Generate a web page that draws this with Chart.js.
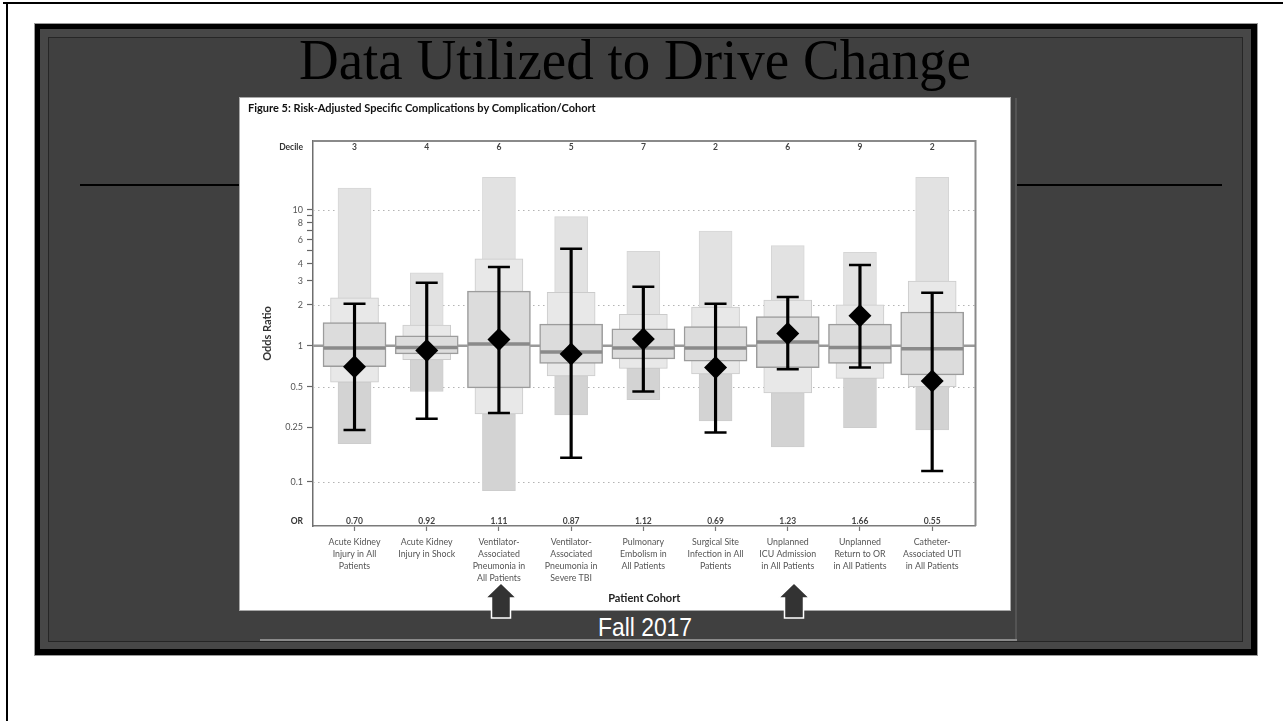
<!DOCTYPE html>
<html>
<head>
<meta charset="utf-8">
<title>Data Utilized to Drive Change</title>
<script src="https://cdn.jsdelivr.net/npm/chart.js@4.4.1/dist/chart.umd.min.js"></script>
<style>
  html, body { margin: 0; padding: 0; }
  body { width: 1283px; height: 721px; position: relative; overflow: hidden; background: #fff; }
  .abs { position: absolute; }
  #pageTop { left: 3px; top: 2px; width: 1280px; height: 2px; background: #000; }
  #pageLeft { left: 6px; top: 2px; width: 2px; height: 719px; background: #000; }
  #slide { left: 35px; top: 24px; width: 1222px; height: 631px; background: #000; box-shadow: 0 0 0 1px #9a9a9a; }
  #band { left: 40px; top: 29px; width: 1211px; height: 620px; background: #474747; }
  #inner { left: 48px; top: 37px; width: 1195px; height: 605px; background: #404040; border: 1px solid #262626; box-sizing: border-box; }
  #title { left: 285px; top: 31px; width: 700px; text-align: center; font: 57px/57px "Liberation Serif", "Times New Roman", serif; color: #000; transform: scaleX(0.965); }
  .rule { height: 2px; background: #000; top: 184px; }
  #figure { left: 240px; top: 98px; width: 770px; height: 512px; background: #fff; box-shadow: 0 0 0 1px #a8a8a8; }
  #figTitle { left: 248px; top: 101px; font: bold 11px Lato, "Liberation Sans", sans-serif; color: #111; white-space: nowrap; }
  #strip { left: 1015px; top: 98px; width: 2px; height: 542px; background: #545454; }
  #baseLine { left: 260px; top: 639px; width: 757px; height: 2px; background: #8a8a8a; }
  #fall { left: 545px; top: 614px; width: 200px; text-align: center; font: 26px/26px "Liberation Sans", Arial, sans-serif; color: #fff; transform: scaleX(0.88); }
  #chart { left: 240px; top: 98px; }
  #arrows { left: 0; top: 0; }
</style>
</head>
<body>
<div id="pageTop" class="abs"></div>
<div id="pageLeft" class="abs"></div>
<div id="slide" class="abs"></div>
<div id="band" class="abs"></div>
<div id="inner" class="abs"></div>
<div id="title" class="abs">Data Utilized to Drive Change</div>
<div class="abs rule" style="left:80px;width:160px"></div>
<div class="abs rule" style="left:1017px;width:205px"></div>
<div id="figure" class="abs"></div>
<div id="strip" class="abs"></div>
<div id="baseLine" class="abs"></div>
<canvas id="chart" class="abs" width="770" height="512"></canvas>
<div id="figTitle" class="abs">Figure 5: Risk-Adjusted Specific Complications by Complication/Cohort</div>
<div id="fall" class="abs">Fall 2017</div>
<svg id="arrows" class="abs" width="1283" height="721">
  <path d="M501,583 L516.5,598 L510.5,598 L510.5,618 L491.5,618 L491.5,598 L485.5,598 Z" fill="#333" stroke="#fff" stroke-width="1.5"/>
  <path d="M794,583 L809.5,598 L803.5,598 L803.5,618 L784.5,618 L784.5,598 L778.5,598 Z" fill="#333" stroke="#fff" stroke-width="1.5"/>
</svg>
<script>
// cohorts, one tick label (lines) each
const categories = [
  ['Acute Kidney', 'Injury in All', 'Patients'],
  ['Acute Kidney', 'Injury in Shock'],
  ['Ventilator-', 'Associated', 'Pneumonia in', 'All Patients'],
  ['Ventilator-', 'Associated', 'Pneumonia in', 'Severe TBI'],
  ['Pulmonary', 'Embolism in', 'All Patients'],
  ['Surgical Site', 'Infection in All', 'Patients'],
  ['Unplanned', 'ICU Admission', 'in All Patients'],
  ['Unplanned', 'Return to OR', 'in All Patients'],
  ['Catheter-', 'Associated UTI', 'in All Patients']
];
const deciles = [3, 4, 6, 5, 7, 2, 6, 9, 2];
const oddsRatio = [0.70, 0.92, 1.11, 0.87, 1.12, 0.69, 1.23, 1.66, 0.55];
const ciLow = [0.24, 0.29, 0.32, 0.15, 0.46, 0.23, 0.67, 0.69, 0.12];
const ciHigh = [2.03, 2.9, 3.79, 5.17, 2.71, 2.03, 2.28, 3.92, 2.45];

// distribution of all centres
const rangeLow = [0.19, 0.46, 0.086, 0.31, 0.40, 0.28, 0.18, 0.25, 0.24];
const p10 = [0.54, 0.79, 0.315, 0.60, 0.68, 0.62, 0.45, 0.575, 0.50];
const q1 = [0.70, 0.87, 0.49, 0.74, 0.80, 0.77, 0.69, 0.74, 0.61];
const median = [0.96, 0.97, 1.03, 0.90, 0.96, 0.96, 1.065, 0.97, 0.95];
const q3 = [1.48, 1.18, 2.52, 1.44, 1.33, 1.38, 1.64, 1.44, 1.77];
const p90 = [2.25, 1.42, 4.36, 2.47, 1.70, 1.92, 2.16, 2.0, 2.98];
const rangeHigh = [14.4, 3.44, 17.3, 8.9, 4.94, 6.97, 5.44, 4.86, 17.3];

// y axis
const yTicks = [10, 9, 8, 7, 6, 5, 4, 3, 2, 1, 0.5, 0.25, 0.1];
const yTickLabels = [10, 8, 6, 4, 3, 2, 1, 0.5, 0.25, 0.1];
const dottedLines = [10, 2, 0.5, 0.1];
const refValue = 1;

const FONT = 'Lato, "Liberation Sans", sans-serif';

const pts = arr => arr.map((v, i) => ({ x: i, y: v }));
const spans = (lo, hi) => lo.map((v, i) => ({ x: i, y: [v, hi[i]] }));

const figurePlugin = {
  id: 'figure',
  beforeDatasetsDraw(chart) {
    const { ctx, chartArea: a, scales: { y } } = chart;
    ctx.save();
    ctx.strokeStyle = '#b4b4b4';
    ctx.lineWidth = 1.2;
    ctx.setLineDash([1.5, 3.5]);
    dottedLines.forEach(v => {
      const py = Math.round(y.getPixelForValue(v)) + 0.5;
      ctx.beginPath(); ctx.moveTo(a.left, py); ctx.lineTo(a.right, py); ctx.stroke();
    });
    ctx.setLineDash([]);
    ctx.strokeStyle = '#9a9a9a';
    ctx.lineWidth = 2.5;
    const py = y.getPixelForValue(refValue);
    ctx.beginPath(); ctx.moveTo(a.left, py); ctx.lineTo(a.right, py); ctx.stroke();
    ctx.restore();
  },
  afterDatasetsDraw(chart) {
    const { ctx, chartArea: a, scales: { x } } = chart;
    ctx.save();
    // frame top + right
    ctx.strokeStyle = '#8a8a8a';
    ctx.lineWidth = 2;
    ctx.beginPath();
    ctx.moveTo(a.left, a.top); ctx.lineTo(a.right, a.top); ctx.lineTo(a.right, a.bottom);
    ctx.stroke();
    // decile + OR rows
    ctx.textBaseline = 'middle';
    ctx.fillStyle = '#333';
    ctx.textAlign = 'right';
    ctx.font = 'bold 8.5px ' + FONT;
    ctx.fillText('Decile', a.left - 10, a.top + 6);
    ctx.fillText('OR', a.left - 10, a.bottom - 5);
    ctx.textAlign = 'center';
    ctx.fillStyle = '#444';
    deciles.forEach((d, i) => ctx.fillText(String(d), x.getPixelForValue(i), a.top + 6));
    oddsRatio.forEach((v, i) => ctx.fillText(v.toFixed(2), x.getPixelForValue(i), a.bottom - 5));
    ctx.restore();
  }
};

new Chart(document.getElementById('chart'), {
  type: 'bar',
  data: {
    datasets: [
      { data: spans(p10, rangeHigh), backgroundColor: '#e2e2e2', borderColor: '#d6d6d6', borderWidth: 1,
        borderSkipped: false, barThickness: 33, grouped: false, order: 10 },
      { data: spans(rangeLow, p10), backgroundColor: '#d3d3d3', borderColor: '#cdcdcd', borderWidth: 1,
        borderSkipped: false, barThickness: 33, grouped: false, order: 9 },
      { data: spans(p10, p90), backgroundColor: '#e8e8e8', borderColor: '#cbcbcb', borderWidth: 1,
        borderSkipped: false, barThickness: 48, grouped: false, order: 8 },
      { data: spans(q1, q3), backgroundColor: '#dcdcdc', borderColor: '#9c9c9c', borderWidth: 1.5,
        borderSkipped: false, barThickness: 63, grouped: false, order: 7 },
      { type: 'scatter', data: pts(median), pointStyle: 'line', pointRadius: 31,
        borderColor: '#8a8a8a', pointBorderWidth: 3.5, order: 6 },
      { data: spans(ciLow, ciHigh), backgroundColor: '#000', barThickness: 2.5, grouped: false, order: 5 },
      { type: 'scatter', data: pts(ciLow).concat(pts(ciHigh)), pointStyle: 'line', pointRadius: 11,
        borderColor: '#000', pointBorderWidth: 2.5, order: 4 },
      { type: 'scatter', data: pts(oddsRatio), pointStyle: 'rectRot', pointRadius: 11.5,
        backgroundColor: '#000', borderColor: '#000', pointBorderWidth: 0, order: 1 }
    ]
  },
  options: {
    responsive: false,
    animation: false,
    devicePixelRatio: 1,
    layout: { padding: { left: 0, top: 43, right: 27, bottom: 0 } },
    plugins: { legend: { display: false }, tooltip: { enabled: false } },
    scales: {
      x: {
        type: 'linear',
        min: -0.575,
        max: 8.6,
        offset: false,
        afterBuildTicks: s => { s.ticks = categories.map((_, i) => ({ value: i })); },
        afterFit: s => { s.height = 84; },
        grid: { offset: false, drawOnChartArea: false, drawTicks: true, tickLength: 5, tickColor: '#777', tickWidth: 1.2 },
        border: { display: true, color: '#7a7a7a', width: 1.5 },
        ticks: {
          autoSkip: false, maxRotation: 0, padding: 5, color: '#555',
          font: { family: FONT, size: 8.8, lineHeight: 1.36 },
          callback: v => categories[v] || ''
        },
        title: { display: true, text: 'Patient Cohort', color: '#222',
          font: { family: FONT, size: 11, weight: 'bold' }, padding: { top: 0, bottom: 5 } }
      },
      y: {
        type: 'logarithmic',
        min: 0.0472,
        max: 32,
        afterBuildTicks: s => { s.ticks = yTicks.map(v => ({ value: v })); },
        afterFit: s => { s.width = 73; },
        grid: { drawOnChartArea: false, drawTicks: true, tickLength: 6, tickColor: '#666', tickWidth: 1.2 },
        border: { display: true, color: '#6e6e6e', width: 1.5 },
        ticks: {
          autoSkip: false, padding: 4, color: '#555',
          font: { family: FONT, size: 9 },
          callback: v => yTickLabels.includes(v) ? String(v) : ''
        },
        title: { display: true, text: 'Odds Ratio', color: '#333',
          font: { family: FONT, size: 11, weight: 'bold' }, padding: { top: 21, bottom: 0 } }
      }
    }
  },
  plugins: [figurePlugin]
});
</script>
</body>
</html>
